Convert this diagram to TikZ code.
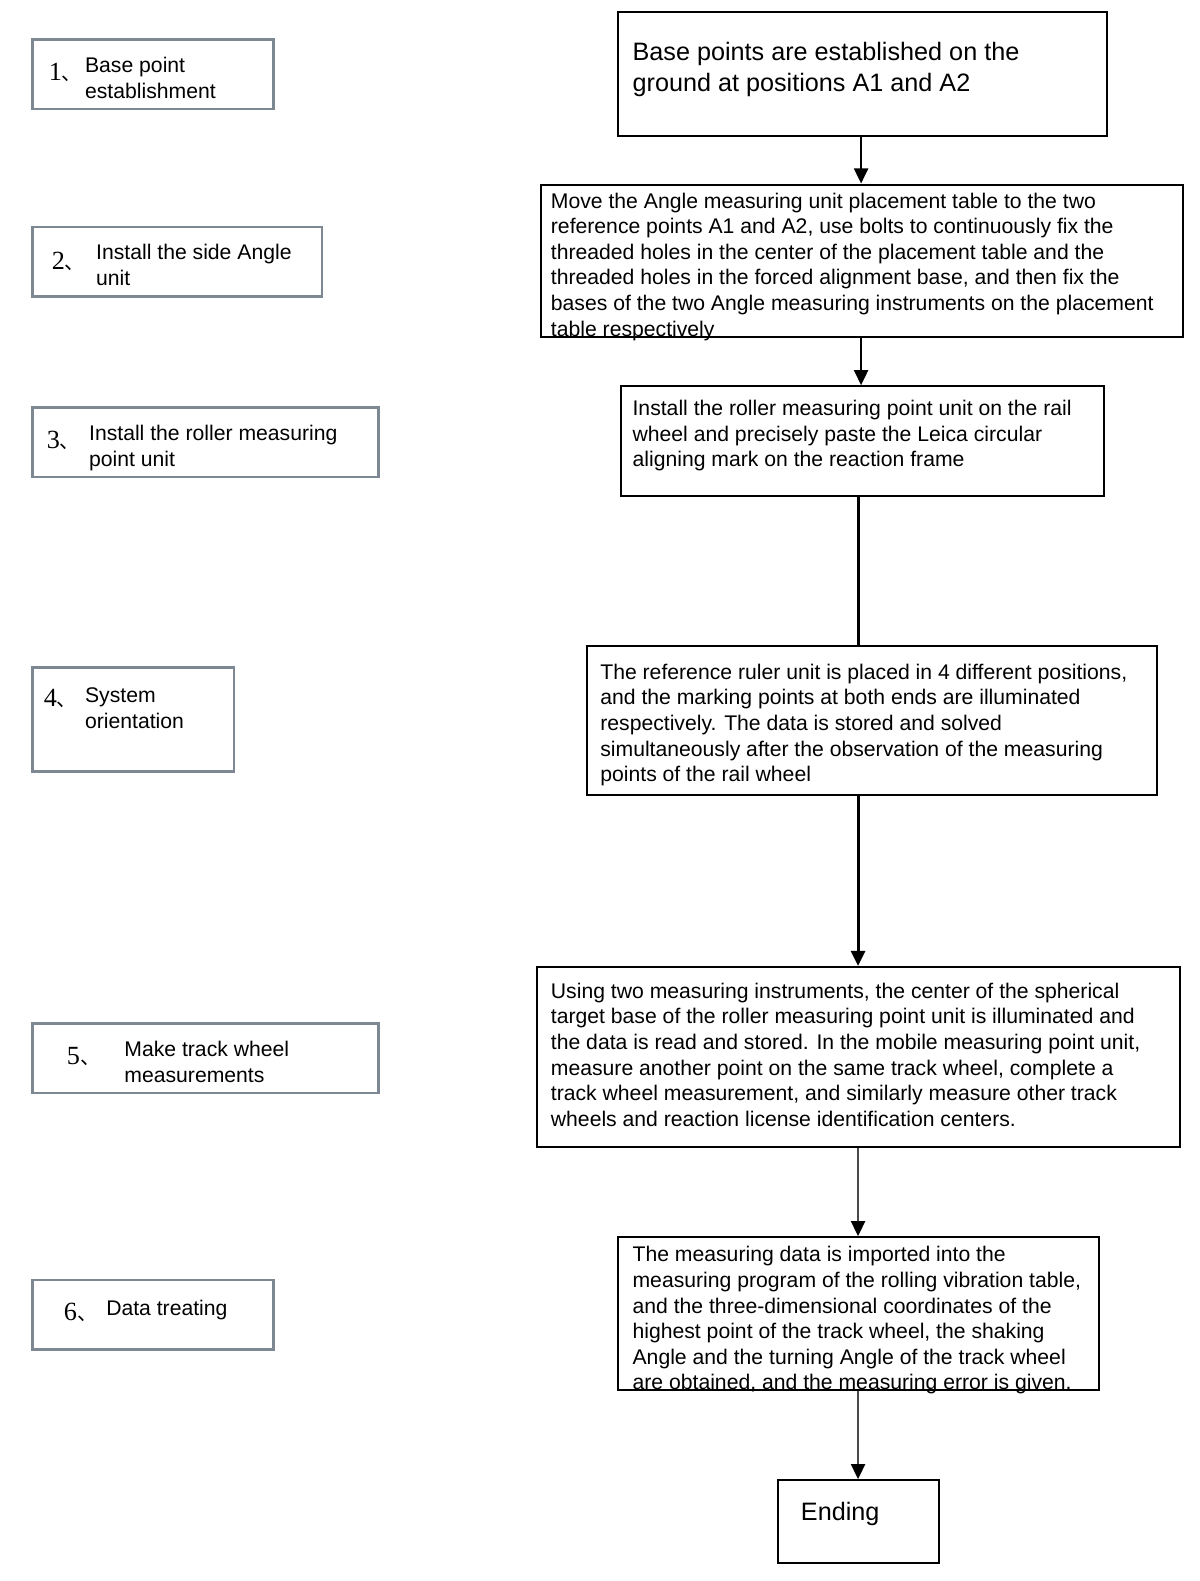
\documentclass[tikz,border=0pt]{standalone}
\usepackage{fontspec}
\setmainfont{Liberation Sans}
\newfontfamily\cjk{Noto Sans CJK SC}
\newfontfamily\numfont{Liberation Serif}
\usetikzlibrary{positioning,arrows.meta}
\definecolor{stepgray}{HTML}{7E8893}
\definecolor{arrgray}{HTML}{4A4A4A}
\newcommand{\stepno}[1]{{\numfont #1}{\cjk\fontsize{10}{12}\selectfont 、}}

\begin{document}
\begin{tikzpicture}[x=0.5pt, y=-0.5pt,
  flowbox/.style={draw=black, line width=1pt, fill=white, inner sep=0pt,
    anchor=north west},
  stepbox/.style={draw=stepgray, line width=1.2pt, fill=white, inner sep=0pt,
    anchor=north west},
  body/.style={anchor=west, align=left, inner sep=0pt,
    font=\fontsize{10.5}{12.7}\selectfont},
  bigbody/.style={anchor=west, align=left, inner sep=0pt,
    font=\fontsize{12.5}{15}\selectfont},
  steptext/.style={anchor=west, align=left, inner sep=0pt,
    font=\fontsize{10.5}{13}\selectfont},
  numtag/.style={anchor=west, inner sep=0pt, font=\fontsize{13}{14}\selectfont},
  arr/.style={line width=1pt, -{Triangle[length=7.5pt,width=7pt,color=black]}},
  spineline/.style={line width=1.5pt}]

  \useasboundingbox (0,0) rectangle (1190,1568);

  % left column: step names
  \node[stepbox, minimum width=119.5pt, minimum height=34.5pt] (l1) at (31,38) {};
  \node[stepbox, minimum width=143.5pt, minimum height=34.5pt] (l2) at (31,224) {};
  \node[stepbox, minimum width=171.5pt, minimum height=34.5pt] (l3) at (31,403) {};
  \node[stepbox, minimum width=100pt, minimum height=51.5pt] (l4) at (31,661) {};
  \node[stepbox, minimum width=171.5pt, minimum height=34.5pt] (l5) at (31,1014) {};
  \node[stepbox, minimum width=119.5pt, minimum height=34.5pt] (l6) at (31,1268) {};

  \node[numtag] (n1) at (48,72) {\stepno{1}};
  \node[numtag] (n2) at (51,259) {\stepno{2}};
  \node[numtag] (n3) at (46,437) {\stepno{3}};
  \node[numtag] (n4) at (43,693) {\stepno{4}};
  \node[numtag] (n5) at (66,1048) {\stepno{5}};
  \node[numtag] (n6) at (63,1302) {\stepno{6}};

  \node[steptext] (s1) at (84,77) {Base point\\establishment};
  \node[steptext] (s2) at (95,263) {Install the side Angle\\unit};
  \node[steptext] (s3) at (88,444) {Install the roller measuring\\point unit};
  \node[steptext] (s4) at (84,702) {System\\orientation};
  \node[steptext] (s5) at (123,1053) {Make track wheel\\measurements};
  \node[steptext] (s6) at (105,1299) {Data treating};

  % right column: flow chart
  \node[flowbox, minimum width=242.5pt, minimum height=61.5pt] (r1) at (612,11) {};
  \node[flowbox, minimum width=318pt, minimum height=75.5pt] (r2) at (536,182) {};
  \node[flowbox, minimum width=239.5pt, minimum height=54.5pt] (r3) at (615,382) {};
  \node[flowbox, minimum width=282.5pt, minimum height=73.5pt] (r4) at (581,640) {};
  \node[flowbox, minimum width=318.5pt, minimum height=89.5pt] (r5) at (532,958) {};
  \node[flowbox, minimum width=238.5pt, minimum height=76pt] (r6) at (612,1226) {};
  \node[flowbox, minimum width=79.5pt, minimum height=41pt] (r7) at (771,1467) {};

  \node[bigbody] (t1) at (627,69) {Base points are established on the\\
    ground at positions A1 and A2};
  \node[body] (t2) at (546,264.5) {Move the Angle measuring unit placement table to the two\\
    reference points A1 and A2, use bolts to continuously fix the\\
    threaded holes in the center of the placement table and the\\
    threaded holes in the forced alignment base, and then fix the\\
    bases of the two Angle measuring instruments on the placement\\
    table respectively};
  \node[body] (t3) at (627,432) {Install the roller measuring point unit on the rail\\
    wheel and precisely paste the Leica circular\\
    aligning mark on the reaction frame};
  \node[body] (t4) at (595,719) {The reference ruler unit is placed in 4 different positions,\\
    and the marking points at both ends are illuminated\\
    respectively. The data is stored and solved\\
    simultaneously after the observation of the measuring\\
    points of the rail wheel};
  \node[body] (t5) at (546,1046) {Using two measuring instruments, the center of the spherical\\
    target base of the roller measuring point unit is illuminated and\\
    the data is read and stored. In the mobile measuring point unit,\\
    measure another point on the same track wheel, complete a\\
    track wheel measurement, and similarly measure other track\\
    wheels and reaction license identification centers.};
  \node[body] (t6) at (627,1309.5) {The measuring data is imported into the\\
    measuring program of the rolling vibration table,\\
    and the three-dimensional coordinates of the\\
    highest point of the track wheel, the shaking\\
    Angle and the turning Angle of the track wheel\\
    are obtained, and the measuring error is given.};
  \node[bigbody] (t7) at (794,1502) {Ending};

  % connectors
  \coordinate (spine) at (851,0);
  \coordinate (topline) at (854,0);
  \draw[arr] (r1.south -| topline) -- (r2.north -| topline);
  \draw[arr] (r2.south -| topline) -- (r3.north -| topline);
  \draw[spineline] (r3.south -| spine) -- (r4.north -| spine);
  \draw[arr, spineline] (r4.south -| spine) -- (r5.north -| spine);
  \draw[arr, draw=arrgray] (r5.south -| spine) -- (r6.north -| spine);
  \draw[arr, draw=arrgray] (r6.south -| spine) -- (r7.north -| spine);

\end{tikzpicture}
\end{document}
